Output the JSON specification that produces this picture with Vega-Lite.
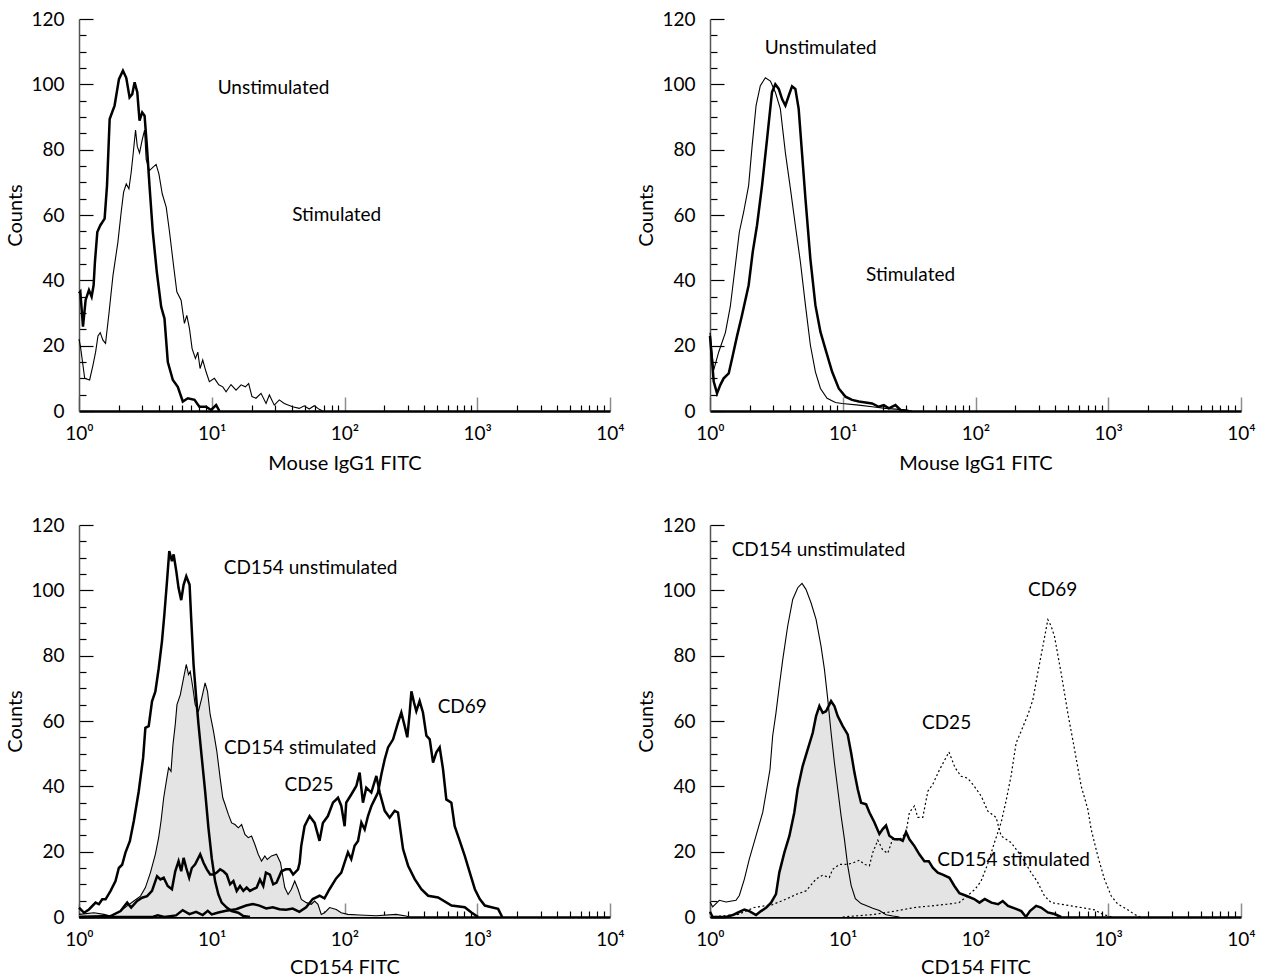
{
"$schema": "https://vega.github.io/schema/vega-lite/v6.json",
"background": "white",
"padding": {"left": 5, "top": 10, "right": 5, "bottom": 5},
"datasets": {
"labels": [
{"panel":"A","label":"Unstimulated","logFITC":1.465,"count":98.9},
{"panel":"A","label":"Stimulated","logFITC":1.941,"count":60.1},
{"panel":"B","label":"Unstimulated","logFITC":0.834,"count":111.1},
{"panel":"B","label":"Stimulated","logFITC":1.511,"count":41.5},
{"panel":"C","label":"CD154 unstimulated","logFITC":1.744,"count":106.8},
{"panel":"C","label":"CD154 stimulated","logFITC":1.666,"count":51.8},
{"panel":"C","label":"CD25","logFITC":1.733,"count":40.4},
{"panel":"C","label":"CD69","logFITC":2.887,"count":64.3},
{"panel":"D","label":"CD154 unstimulated","logFITC":0.817,"count":112.2},
{"panel":"D","label":"CD69","logFITC":2.581,"count":100},
{"panel":"D","label":"CD25","logFITC":1.782,"count":59.3},
{"panel":"D","label":"CD154 stimulated","logFITC":2.287,"count":17.4}
],
"curves": [
{"panel":"A","series":"Unstimulated","logFITC":0,"count":36},
{"panel":"A","series":"Unstimulated","logFITC":0.01,"count":36.5},
{"panel":"A","series":"Unstimulated","logFITC":0.03,"count":25.8},
{"panel":"A","series":"Unstimulated","logFITC":0.05,"count":34},
{"panel":"A","series":"Unstimulated","logFITC":0.075,"count":37},
{"panel":"A","series":"Unstimulated","logFITC":0.095,"count":35},
{"panel":"A","series":"Unstimulated","logFITC":0.11,"count":38.5},
{"panel":"A","series":"Unstimulated","logFITC":0.12,"count":45.6},
{"panel":"A","series":"Unstimulated","logFITC":0.138,"count":54.8},
{"panel":"A","series":"Unstimulated","logFITC":0.16,"count":56.8},
{"panel":"A","series":"Unstimulated","logFITC":0.193,"count":58.9},
{"panel":"A","series":"Unstimulated","logFITC":0.211,"count":69},
{"panel":"A","series":"Unstimulated","logFITC":0.231,"count":89.4},
{"panel":"A","series":"Unstimulated","logFITC":0.268,"count":93.5},
{"panel":"A","series":"Unstimulated","logFITC":0.301,"count":101.6},
{"panel":"A","series":"Unstimulated","logFITC":0.331,"count":104.2},
{"panel":"A","series":"Unstimulated","logFITC":0.356,"count":102},
{"panel":"A","series":"Unstimulated","logFITC":0.381,"count":96},
{"panel":"A","series":"Unstimulated","logFITC":0.401,"count":97},
{"panel":"A","series":"Unstimulated","logFITC":0.419,"count":100.6},
{"panel":"A","series":"Unstimulated","logFITC":0.439,"count":97.6},
{"panel":"A","series":"Unstimulated","logFITC":0.456,"count":88.9},
{"panel":"A","series":"Unstimulated","logFITC":0.476,"count":91.4},
{"panel":"A","series":"Unstimulated","logFITC":0.494,"count":90.4},
{"panel":"A","series":"Unstimulated","logFITC":0.511,"count":81.3},
{"panel":"A","series":"Unstimulated","logFITC":0.531,"count":69},
{"panel":"A","series":"Unstimulated","logFITC":0.556,"count":54.8},
{"panel":"A","series":"Unstimulated","logFITC":0.586,"count":42.6},
{"panel":"A","series":"Unstimulated","logFITC":0.619,"count":31.9},
{"panel":"A","series":"Unstimulated","logFITC":0.644,"count":28.3},
{"panel":"A","series":"Unstimulated","logFITC":0.669,"count":15},
{"panel":"A","series":"Unstimulated","logFITC":0.707,"count":9.5},
{"panel":"A","series":"Unstimulated","logFITC":0.744,"count":7.4},
{"panel":"A","series":"Unstimulated","logFITC":0.782,"count":2.9},
{"panel":"A","series":"Unstimulated","logFITC":0.82,"count":3.9},
{"panel":"A","series":"Unstimulated","logFITC":0.87,"count":3.4},
{"panel":"A","series":"Unstimulated","logFITC":0.907,"count":1.3},
{"panel":"A","series":"Unstimulated","logFITC":0.957,"count":1.3},
{"panel":"A","series":"Unstimulated","logFITC":0.995,"count":0.3},
{"panel":"A","series":"Unstimulated","logFITC":1.033,"count":1.8},
{"panel":"A","series":"Unstimulated","logFITC":1.058,"count":0},
{"panel":"A","series":"Stimulated","logFITC":0,"count":22},
{"panel":"A","series":"Stimulated","logFITC":0.01,"count":20},
{"panel":"A","series":"Stimulated","logFITC":0.043,"count":10},
{"panel":"A","series":"Stimulated","logFITC":0.08,"count":9.5},
{"panel":"A","series":"Stimulated","logFITC":0.105,"count":14},
{"panel":"A","series":"Stimulated","logFITC":0.125,"count":18},
{"panel":"A","series":"Stimulated","logFITC":0.143,"count":23},
{"panel":"A","series":"Stimulated","logFITC":0.16,"count":24},
{"panel":"A","series":"Stimulated","logFITC":0.18,"count":21.7},
{"panel":"A","series":"Stimulated","logFITC":0.2,"count":20.7},
{"panel":"A","series":"Stimulated","logFITC":0.226,"count":30},
{"panel":"A","series":"Stimulated","logFITC":0.256,"count":41.5},
{"panel":"A","series":"Stimulated","logFITC":0.293,"count":51.7},
{"panel":"A","series":"Stimulated","logFITC":0.318,"count":61},
{"panel":"A","series":"Stimulated","logFITC":0.336,"count":67},
{"panel":"A","series":"Stimulated","logFITC":0.356,"count":69.5},
{"panel":"A","series":"Stimulated","logFITC":0.376,"count":68},
{"panel":"A","series":"Stimulated","logFITC":0.393,"count":73},
{"panel":"A","series":"Stimulated","logFITC":0.406,"count":78},
{"panel":"A","series":"Stimulated","logFITC":0.426,"count":86},
{"panel":"A","series":"Stimulated","logFITC":0.439,"count":81},
{"panel":"A","series":"Stimulated","logFITC":0.456,"count":79},
{"panel":"A","series":"Stimulated","logFITC":0.476,"count":83},
{"panel":"A","series":"Stimulated","logFITC":0.494,"count":86},
{"panel":"A","series":"Stimulated","logFITC":0.506,"count":77},
{"panel":"A","series":"Stimulated","logFITC":0.531,"count":73.6},
{"panel":"A","series":"Stimulated","logFITC":0.556,"count":74.6},
{"panel":"A","series":"Stimulated","logFITC":0.581,"count":75.5},
{"panel":"A","series":"Stimulated","logFITC":0.602,"count":72.6},
{"panel":"A","series":"Stimulated","logFITC":0.627,"count":66.5},
{"panel":"A","series":"Stimulated","logFITC":0.657,"count":62.4},
{"panel":"A","series":"Stimulated","logFITC":0.682,"count":54.8},
{"panel":"A","series":"Stimulated","logFITC":0.712,"count":44.6},
{"panel":"A","series":"Stimulated","logFITC":0.737,"count":36.5},
{"panel":"A","series":"Stimulated","logFITC":0.769,"count":33.9},
{"panel":"A","series":"Stimulated","logFITC":0.794,"count":26.8},
{"panel":"A","series":"Stimulated","logFITC":0.812,"count":29.3},
{"panel":"A","series":"Stimulated","logFITC":0.832,"count":25.3},
{"panel":"A","series":"Stimulated","logFITC":0.852,"count":19.1},
{"panel":"A","series":"Stimulated","logFITC":0.877,"count":16.1},
{"panel":"A","series":"Stimulated","logFITC":0.895,"count":18},
{"panel":"A","series":"Stimulated","logFITC":0.912,"count":13},
{"panel":"A","series":"Stimulated","logFITC":0.932,"count":15.6},
{"panel":"A","series":"Stimulated","logFITC":0.957,"count":12},
{"panel":"A","series":"Stimulated","logFITC":0.982,"count":9},
{"panel":"A","series":"Stimulated","logFITC":1.02,"count":10},
{"panel":"A","series":"Stimulated","logFITC":1.053,"count":8},
{"panel":"A","series":"Stimulated","logFITC":1.083,"count":7.4},
{"panel":"A","series":"Stimulated","logFITC":1.108,"count":5.9},
{"panel":"A","series":"Stimulated","logFITC":1.145,"count":8.1},
{"panel":"A","series":"Stimulated","logFITC":1.183,"count":6.4},
{"panel":"A","series":"Stimulated","logFITC":1.221,"count":8},
{"panel":"A","series":"Stimulated","logFITC":1.253,"count":7.4},
{"panel":"A","series":"Stimulated","logFITC":1.278,"count":8.4},
{"panel":"A","series":"Stimulated","logFITC":1.303,"count":4.4},
{"panel":"A","series":"Stimulated","logFITC":1.333,"count":3.9},
{"panel":"A","series":"Stimulated","logFITC":1.371,"count":5.4},
{"panel":"A","series":"Stimulated","logFITC":1.409,"count":2.3},
{"panel":"A","series":"Stimulated","logFITC":1.434,"count":4.9},
{"panel":"A","series":"Stimulated","logFITC":1.471,"count":1.8},
{"panel":"A","series":"Stimulated","logFITC":1.509,"count":3.4},
{"panel":"A","series":"Stimulated","logFITC":1.546,"count":2.3},
{"panel":"A","series":"Stimulated","logFITC":1.609,"count":1.3},
{"panel":"A","series":"Stimulated","logFITC":1.659,"count":0.8},
{"panel":"A","series":"Stimulated","logFITC":1.697,"count":1.6},
{"panel":"A","series":"Stimulated","logFITC":1.734,"count":0.6},
{"panel":"A","series":"Stimulated","logFITC":1.772,"count":1.6},
{"panel":"A","series":"Stimulated","logFITC":1.81,"count":0.5},
{"panel":"A","series":"Stimulated","logFITC":1.835,"count":0},
{"panel":"B","series":"Unstimulated","logFITC":0,"count":24},
{"panel":"B","series":"Unstimulated","logFITC":0.028,"count":12.5},
{"panel":"B","series":"Unstimulated","logFITC":0.065,"count":18},
{"panel":"B","series":"Unstimulated","logFITC":0.116,"count":24},
{"panel":"B","series":"Unstimulated","logFITC":0.153,"count":32},
{"panel":"B","series":"Unstimulated","logFITC":0.191,"count":44.6},
{"panel":"B","series":"Unstimulated","logFITC":0.221,"count":54.8},
{"panel":"B","series":"Unstimulated","logFITC":0.254,"count":61},
{"panel":"B","series":"Unstimulated","logFITC":0.291,"count":69},
{"panel":"B","series":"Unstimulated","logFITC":0.317,"count":81},
{"panel":"B","series":"Unstimulated","logFITC":0.347,"count":93.5},
{"panel":"B","series":"Unstimulated","logFITC":0.379,"count":99.6},
{"panel":"B","series":"Unstimulated","logFITC":0.417,"count":102},
{"panel":"B","series":"Unstimulated","logFITC":0.455,"count":101},
{"panel":"B","series":"Unstimulated","logFITC":0.492,"count":97.6},
{"panel":"B","series":"Unstimulated","logFITC":0.53,"count":92.5},
{"panel":"B","series":"Unstimulated","logFITC":0.568,"count":79},
{"panel":"B","series":"Unstimulated","logFITC":0.606,"count":68},
{"panel":"B","series":"Unstimulated","logFITC":0.643,"count":56.8},
{"panel":"B","series":"Unstimulated","logFITC":0.681,"count":45.6},
{"panel":"B","series":"Unstimulated","logFITC":0.719,"count":32.4},
{"panel":"B","series":"Unstimulated","logFITC":0.756,"count":20.2},
{"panel":"B","series":"Unstimulated","logFITC":0.794,"count":12},
{"panel":"B","series":"Unstimulated","logFITC":0.832,"count":6.9},
{"panel":"B","series":"Unstimulated","logFITC":0.882,"count":3.9},
{"panel":"B","series":"Unstimulated","logFITC":0.945,"count":2.6},
{"panel":"B","series":"Unstimulated","logFITC":0.995,"count":2.3},
{"panel":"B","series":"Unstimulated","logFITC":1.121,"count":1.8},
{"panel":"B","series":"Unstimulated","logFITC":1.221,"count":1.3},
{"panel":"B","series":"Unstimulated","logFITC":1.322,"count":0.8},
{"panel":"B","series":"Unstimulated","logFITC":1.422,"count":0.5},
{"panel":"B","series":"Unstimulated","logFITC":1.523,"count":0},
{"panel":"B","series":"Stimulated","logFITC":0,"count":23},
{"panel":"B","series":"Stimulated","logFITC":0.028,"count":9},
{"panel":"B","series":"Stimulated","logFITC":0.053,"count":5.4},
{"panel":"B","series":"Stimulated","logFITC":0.078,"count":8},
{"panel":"B","series":"Stimulated","logFITC":0.103,"count":10},
{"panel":"B","series":"Stimulated","logFITC":0.141,"count":11.5},
{"panel":"B","series":"Stimulated","logFITC":0.166,"count":16},
{"panel":"B","series":"Stimulated","logFITC":0.204,"count":23},
{"panel":"B","series":"Stimulated","logFITC":0.241,"count":29.3},
{"panel":"B","series":"Stimulated","logFITC":0.291,"count":38.5},
{"panel":"B","series":"Stimulated","logFITC":0.322,"count":48.7},
{"panel":"B","series":"Stimulated","logFITC":0.354,"count":56.8},
{"panel":"B","series":"Stimulated","logFITC":0.392,"count":69},
{"panel":"B","series":"Stimulated","logFITC":0.43,"count":83.3},
{"panel":"B","series":"Stimulated","logFITC":0.467,"count":97.6},
{"panel":"B","series":"Stimulated","logFITC":0.492,"count":100},
{"panel":"B","series":"Stimulated","logFITC":0.518,"count":98.6},
{"panel":"B","series":"Stimulated","logFITC":0.543,"count":95.5},
{"panel":"B","series":"Stimulated","logFITC":0.568,"count":93.5},
{"panel":"B","series":"Stimulated","logFITC":0.593,"count":96.5},
{"panel":"B","series":"Stimulated","logFITC":0.618,"count":99.4},
{"panel":"B","series":"Stimulated","logFITC":0.643,"count":98.6},
{"panel":"B","series":"Stimulated","logFITC":0.668,"count":92.5},
{"panel":"B","series":"Stimulated","logFITC":0.693,"count":79},
{"panel":"B","series":"Stimulated","logFITC":0.719,"count":65},
{"panel":"B","series":"Stimulated","logFITC":0.756,"count":46.6},
{"panel":"B","series":"Stimulated","logFITC":0.794,"count":32.4},
{"panel":"B","series":"Stimulated","logFITC":0.832,"count":24.2},
{"panel":"B","series":"Stimulated","logFITC":0.869,"count":19},
{"panel":"B","series":"Stimulated","logFITC":0.92,"count":12},
{"panel":"B","series":"Stimulated","logFITC":0.97,"count":6.9},
{"panel":"B","series":"Stimulated","logFITC":1.02,"count":4.4},
{"panel":"B","series":"Stimulated","logFITC":1.07,"count":3.4},
{"panel":"B","series":"Stimulated","logFITC":1.121,"count":2.9},
{"panel":"B","series":"Stimulated","logFITC":1.171,"count":2.6},
{"panel":"B","series":"Stimulated","logFITC":1.221,"count":2.3},
{"panel":"B","series":"Stimulated","logFITC":1.271,"count":1.3},
{"panel":"B","series":"Stimulated","logFITC":1.309,"count":1.8},
{"panel":"B","series":"Stimulated","logFITC":1.347,"count":0.8},
{"panel":"B","series":"Stimulated","logFITC":1.397,"count":1.8},
{"panel":"B","series":"Stimulated","logFITC":1.435,"count":0.3},
{"panel":"B","series":"Stimulated","logFITC":1.497,"count":0},
{"panel":"C","series":"CD154 unstimulated","logFITC":0,"count":2.9},
{"panel":"C","series":"CD154 unstimulated","logFITC":0.038,"count":1.3},
{"panel":"C","series":"CD154 unstimulated","logFITC":0.075,"count":2.3},
{"panel":"C","series":"CD154 unstimulated","logFITC":0.125,"count":4.4},
{"panel":"C","series":"CD154 unstimulated","logFITC":0.15,"count":3.9},
{"panel":"C","series":"CD154 unstimulated","logFITC":0.175,"count":5.4},
{"panel":"C","series":"CD154 unstimulated","logFITC":0.2,"count":5.4},
{"panel":"C","series":"CD154 unstimulated","logFITC":0.238,"count":8},
{"panel":"C","series":"CD154 unstimulated","logFITC":0.275,"count":11},
{"panel":"C","series":"CD154 unstimulated","logFITC":0.3,"count":15},
{"panel":"C","series":"CD154 unstimulated","logFITC":0.325,"count":16},
{"panel":"C","series":"CD154 unstimulated","logFITC":0.35,"count":19.7},
{"panel":"C","series":"CD154 unstimulated","logFITC":0.383,"count":23.2},
{"panel":"C","series":"CD154 unstimulated","logFITC":0.413,"count":29.4},
{"panel":"C","series":"CD154 unstimulated","logFITC":0.45,"count":38.5},
{"panel":"C","series":"CD154 unstimulated","logFITC":0.483,"count":48.7},
{"panel":"C","series":"CD154 unstimulated","logFITC":0.5,"count":57.9},
{"panel":"C","series":"CD154 unstimulated","logFITC":0.525,"count":58.4},
{"panel":"C","series":"CD154 unstimulated","logFITC":0.55,"count":66},
{"panel":"C","series":"CD154 unstimulated","logFITC":0.575,"count":69},
{"panel":"C","series":"CD154 unstimulated","logFITC":0.6,"count":76},
{"panel":"C","series":"CD154 unstimulated","logFITC":0.625,"count":84.4},
{"panel":"C","series":"CD154 unstimulated","logFITC":0.643,"count":92.6},
{"panel":"C","series":"CD154 unstimulated","logFITC":0.663,"count":102.8},
{"panel":"C","series":"CD154 unstimulated","logFITC":0.68,"count":112},
{"panel":"C","series":"CD154 unstimulated","logFITC":0.7,"count":108.9},
{"panel":"C","series":"CD154 unstimulated","logFITC":0.713,"count":111},
{"panel":"C","series":"CD154 unstimulated","logFITC":0.733,"count":105.8},
{"panel":"C","series":"CD154 unstimulated","logFITC":0.75,"count":100.7},
{"panel":"C","series":"CD154 unstimulated","logFITC":0.77,"count":97},
{"panel":"C","series":"CD154 unstimulated","logFITC":0.788,"count":101.7},
{"panel":"C","series":"CD154 unstimulated","logFITC":0.808,"count":104.3},
{"panel":"C","series":"CD154 unstimulated","logFITC":0.833,"count":101.7},
{"panel":"C","series":"CD154 unstimulated","logFITC":0.845,"count":91.5},
{"panel":"C","series":"CD154 unstimulated","logFITC":0.863,"count":77.3},
{"panel":"C","series":"CD154 unstimulated","logFITC":0.883,"count":67},
{"panel":"C","series":"CD154 unstimulated","logFITC":0.9,"count":59},
{"panel":"C","series":"CD154 unstimulated","logFITC":0.925,"count":48.7},
{"panel":"C","series":"CD154 unstimulated","logFITC":0.95,"count":38.5},
{"panel":"C","series":"CD154 unstimulated","logFITC":0.975,"count":27.3},
{"panel":"C","series":"CD154 unstimulated","logFITC":1.0,"count":18},
{"panel":"C","series":"CD154 unstimulated","logFITC":1.025,"count":11},
{"panel":"C","series":"CD154 unstimulated","logFITC":1.05,"count":6.9},
{"panel":"C","series":"CD154 unstimulated","logFITC":1.075,"count":4.4},
{"panel":"C","series":"CD154 unstimulated","logFITC":1.113,"count":2.9},
{"panel":"C","series":"CD154 unstimulated","logFITC":1.15,"count":1.8},
{"panel":"C","series":"CD154 unstimulated","logFITC":1.2,"count":1.3},
{"panel":"C","series":"CD154 unstimulated","logFITC":1.238,"count":0.3},
{"panel":"C","series":"CD154 unstimulated","logFITC":1.288,"count":0},
{"panel":"C","series":"CD154 stimulated","logFITC":0,"count":0.8},
{"panel":"C","series":"CD154 stimulated","logFITC":0.113,"count":1.3},
{"panel":"C","series":"CD154 stimulated","logFITC":0.188,"count":0.8},
{"panel":"C","series":"CD154 stimulated","logFITC":0.238,"count":0.3},
{"panel":"C","series":"CD154 stimulated","logFITC":0.313,"count":1.8},
{"panel":"C","series":"CD154 stimulated","logFITC":0.363,"count":3.4},
{"panel":"C","series":"CD154 stimulated","logFITC":0.413,"count":4.9},
{"panel":"C","series":"CD154 stimulated","logFITC":0.463,"count":6.4},
{"panel":"C","series":"CD154 stimulated","logFITC":0.5,"count":9},
{"panel":"C","series":"CD154 stimulated","logFITC":0.538,"count":13.6},
{"panel":"C","series":"CD154 stimulated","logFITC":0.575,"count":19.2},
{"panel":"C","series":"CD154 stimulated","logFITC":0.6,"count":24.3},
{"panel":"C","series":"CD154 stimulated","logFITC":0.618,"count":29.4},
{"panel":"C","series":"CD154 stimulated","logFITC":0.638,"count":36.5},
{"panel":"C","series":"CD154 stimulated","logFITC":0.658,"count":41.6},
{"panel":"C","series":"CD154 stimulated","logFITC":0.675,"count":45.7},
{"panel":"C","series":"CD154 stimulated","logFITC":0.693,"count":44.6},
{"panel":"C","series":"CD154 stimulated","logFITC":0.708,"count":52.8},
{"panel":"C","series":"CD154 stimulated","logFITC":0.725,"count":58.9},
{"panel":"C","series":"CD154 stimulated","logFITC":0.738,"count":65},
{"panel":"C","series":"CD154 stimulated","logFITC":0.763,"count":68},
{"panel":"C","series":"CD154 stimulated","logFITC":0.788,"count":73.2},
{"panel":"C","series":"CD154 stimulated","logFITC":0.808,"count":77.3},
{"panel":"C","series":"CD154 stimulated","logFITC":0.825,"count":74.2},
{"panel":"C","series":"CD154 stimulated","logFITC":0.838,"count":75.2},
{"panel":"C","series":"CD154 stimulated","logFITC":0.858,"count":70.1},
{"panel":"C","series":"CD154 stimulated","logFITC":0.875,"count":65},
{"panel":"C","series":"CD154 stimulated","logFITC":0.9,"count":63},
{"panel":"C","series":"CD154 stimulated","logFITC":0.925,"count":67.1},
{"panel":"C","series":"CD154 stimulated","logFITC":0.95,"count":71.7},
{"panel":"C","series":"CD154 stimulated","logFITC":0.968,"count":69.1},
{"panel":"C","series":"CD154 stimulated","logFITC":0.988,"count":62},
{"panel":"C","series":"CD154 stimulated","logFITC":1.013,"count":56.9},
{"panel":"C","series":"CD154 stimulated","logFITC":1.038,"count":50.8},
{"panel":"C","series":"CD154 stimulated","logFITC":1.063,"count":42.6},
{"panel":"C","series":"CD154 stimulated","logFITC":1.083,"count":36.5},
{"panel":"C","series":"CD154 stimulated","logFITC":1.1,"count":34.5},
{"panel":"C","series":"CD154 stimulated","logFITC":1.125,"count":31.4},
{"panel":"C","series":"CD154 stimulated","logFITC":1.15,"count":28.8},
{"panel":"C","series":"CD154 stimulated","logFITC":1.175,"count":28.3},
{"panel":"C","series":"CD154 stimulated","logFITC":1.2,"count":27.3},
{"panel":"C","series":"CD154 stimulated","logFITC":1.225,"count":28.3},
{"panel":"C","series":"CD154 stimulated","logFITC":1.25,"count":25.3},
{"panel":"C","series":"CD154 stimulated","logFITC":1.275,"count":24.3},
{"panel":"C","series":"CD154 stimulated","logFITC":1.3,"count":24.8},
{"panel":"C","series":"CD154 stimulated","logFITC":1.325,"count":22.2},
{"panel":"C","series":"CD154 stimulated","logFITC":1.35,"count":19.2},
{"panel":"C","series":"CD154 stimulated","logFITC":1.375,"count":17.1},
{"panel":"C","series":"CD154 stimulated","logFITC":1.4,"count":18.7},
{"panel":"C","series":"CD154 stimulated","logFITC":1.418,"count":17.6},
{"panel":"C","series":"CD154 stimulated","logFITC":1.45,"count":18.7},
{"panel":"C","series":"CD154 stimulated","logFITC":1.488,"count":19.2},
{"panel":"C","series":"CD154 stimulated","logFITC":1.518,"count":16.6},
{"panel":"C","series":"CD154 stimulated","logFITC":1.533,"count":13},
{"panel":"C","series":"CD154 stimulated","logFITC":1.55,"count":9},
{"panel":"C","series":"CD154 stimulated","logFITC":1.575,"count":6.9},
{"panel":"C","series":"CD154 stimulated","logFITC":1.6,"count":8.5},
{"panel":"C","series":"CD154 stimulated","logFITC":1.625,"count":11},
{"panel":"C","series":"CD154 stimulated","logFITC":1.65,"count":8.5},
{"panel":"C","series":"CD154 stimulated","logFITC":1.675,"count":5.4},
{"panel":"C","series":"CD154 stimulated","logFITC":1.713,"count":4.4},
{"panel":"C","series":"CD154 stimulated","logFITC":1.75,"count":3.9},
{"panel":"C","series":"CD154 stimulated","logFITC":1.775,"count":4.9},
{"panel":"C","series":"CD154 stimulated","logFITC":1.8,"count":3.9},
{"panel":"C","series":"CD154 stimulated","logFITC":1.825,"count":0.8},
{"panel":"C","series":"CD154 stimulated","logFITC":1.85,"count":1.3},
{"panel":"C","series":"CD154 stimulated","logFITC":1.888,"count":2.9},
{"panel":"C","series":"CD154 stimulated","logFITC":1.938,"count":2.3},
{"panel":"C","series":"CD154 stimulated","logFITC":1.975,"count":1.3},
{"panel":"C","series":"CD154 stimulated","logFITC":2.025,"count":0.8},
{"panel":"C","series":"CD154 stimulated","logFITC":2.113,"count":0.6},
{"panel":"C","series":"CD154 stimulated","logFITC":2.238,"count":0.4},
{"panel":"C","series":"CD154 stimulated","logFITC":2.388,"count":0.8},
{"panel":"C","series":"CD154 stimulated","logFITC":2.463,"count":0.3},
{"panel":"C","series":"CD154 stimulated","logFITC":2.49,"count":0},
{"panel":"C","series":"CD25","logFITC":0,"count":0},
{"panel":"C","series":"CD25","logFITC":0.238,"count":0.3},
{"panel":"C","series":"CD25","logFITC":0.313,"count":1.8},
{"panel":"C","series":"CD25","logFITC":0.363,"count":4.4},
{"panel":"C","series":"CD25","logFITC":0.393,"count":2.9},
{"panel":"C","series":"CD25","logFITC":0.438,"count":4.9},
{"panel":"C","series":"CD25","logFITC":0.475,"count":5.9},
{"panel":"C","series":"CD25","logFITC":0.513,"count":6.4},
{"panel":"C","series":"CD25","logFITC":0.55,"count":8},
{"panel":"C","series":"CD25","logFITC":0.588,"count":12.5},
{"panel":"C","series":"CD25","logFITC":0.613,"count":11.5},
{"panel":"C","series":"CD25","logFITC":0.638,"count":12},
{"panel":"C","series":"CD25","logFITC":0.668,"count":9.5},
{"panel":"C","series":"CD25","logFITC":0.7,"count":8.5},
{"panel":"C","series":"CD25","logFITC":0.725,"count":14},
{"panel":"C","series":"CD25","logFITC":0.75,"count":17.1},
{"panel":"C","series":"CD25","logFITC":0.77,"count":14},
{"panel":"C","series":"CD25","logFITC":0.788,"count":18.1},
{"panel":"C","series":"CD25","logFITC":0.808,"count":15},
{"panel":"C","series":"CD25","logFITC":0.83,"count":12},
{"panel":"C","series":"CD25","logFITC":0.85,"count":15},
{"panel":"C","series":"CD25","logFITC":0.875,"count":16.1},
{"panel":"C","series":"CD25","logFITC":0.913,"count":19.2},
{"panel":"C","series":"CD25","logFITC":0.938,"count":16.6},
{"panel":"C","series":"CD25","logFITC":0.963,"count":14.6},
{"panel":"C","series":"CD25","logFITC":0.988,"count":13},
{"panel":"C","series":"CD25","logFITC":1.013,"count":13},
{"panel":"C","series":"CD25","logFITC":1.038,"count":13.6},
{"panel":"C","series":"CD25","logFITC":1.063,"count":14.6},
{"panel":"C","series":"CD25","logFITC":1.088,"count":14},
{"panel":"C","series":"CD25","logFITC":1.113,"count":13},
{"panel":"C","series":"CD25","logFITC":1.138,"count":10},
{"panel":"C","series":"CD25","logFITC":1.163,"count":11},
{"panel":"C","series":"CD25","logFITC":1.188,"count":8},
{"panel":"C","series":"CD25","logFITC":1.213,"count":9.5},
{"panel":"C","series":"CD25","logFITC":1.238,"count":8},
{"panel":"C","series":"CD25","logFITC":1.263,"count":9},
{"panel":"C","series":"CD25","logFITC":1.288,"count":8},
{"panel":"C","series":"CD25","logFITC":1.313,"count":8.5},
{"panel":"C","series":"CD25","logFITC":1.338,"count":9},
{"panel":"C","series":"CD25","logFITC":1.363,"count":11.5},
{"panel":"C","series":"CD25","logFITC":1.388,"count":9.5},
{"panel":"C","series":"CD25","logFITC":1.408,"count":13.6},
{"panel":"C","series":"CD25","logFITC":1.438,"count":13},
{"panel":"C","series":"CD25","logFITC":1.463,"count":10},
{"panel":"C","series":"CD25","logFITC":1.488,"count":10.5},
{"panel":"C","series":"CD25","logFITC":1.525,"count":14},
{"panel":"C","series":"CD25","logFITC":1.558,"count":14.6},
{"panel":"C","series":"CD25","logFITC":1.588,"count":14.6},
{"panel":"C","series":"CD25","logFITC":1.613,"count":13},
{"panel":"C","series":"CD25","logFITC":1.65,"count":14.6},
{"panel":"C","series":"CD25","logFITC":1.662,"count":16.6},
{"panel":"C","series":"CD25","logFITC":1.674,"count":21.7},
{"panel":"C","series":"CD25","logFITC":1.699,"count":27.8},
{"panel":"C","series":"CD25","logFITC":1.737,"count":30.9},
{"panel":"C","series":"CD25","logFITC":1.775,"count":28.8},
{"panel":"C","series":"CD25","logFITC":1.812,"count":23.3},
{"panel":"C","series":"CD25","logFITC":1.837,"count":28.8},
{"panel":"C","series":"CD25","logFITC":1.875,"count":30.9},
{"panel":"C","series":"CD25","logFITC":1.913,"count":35},
{"panel":"C","series":"CD25","logFITC":1.951,"count":36.5},
{"panel":"C","series":"CD25","logFITC":1.976,"count":34},
{"panel":"C","series":"CD25","logFITC":2.001,"count":27.8},
{"panel":"C","series":"CD25","logFITC":2.013,"count":35},
{"panel":"C","series":"CD25","logFITC":2.051,"count":37.5},
{"panel":"C","series":"CD25","logFITC":2.089,"count":40.1},
{"panel":"C","series":"CD25","logFITC":2.114,"count":44.2},
{"panel":"C","series":"CD25","logFITC":2.139,"count":35},
{"panel":"C","series":"CD25","logFITC":2.164,"count":39.6},
{"panel":"C","series":"CD25","logFITC":2.202,"count":38.1},
{"panel":"C","series":"CD25","logFITC":2.24,"count":43.2},
{"panel":"C","series":"CD25","logFITC":2.265,"count":38.1},
{"panel":"C","series":"CD25","logFITC":2.303,"count":32.5},
{"panel":"C","series":"CD25","logFITC":2.34,"count":30.4},
{"panel":"C","series":"CD25","logFITC":2.378,"count":32.5},
{"panel":"C","series":"CD25","logFITC":2.403,"count":32},
{"panel":"C","series":"CD25","logFITC":2.441,"count":20.8},
{"panel":"C","series":"CD25","logFITC":2.479,"count":15.7},
{"panel":"C","series":"CD25","logFITC":2.529,"count":11.6},
{"panel":"C","series":"CD25","logFITC":2.579,"count":8.5},
{"panel":"C","series":"CD25","logFITC":2.63,"count":6.5},
{"panel":"C","series":"CD25","logFITC":2.705,"count":6},
{"panel":"C","series":"CD25","logFITC":2.806,"count":3.5},
{"panel":"C","series":"CD25","logFITC":2.906,"count":3},
{"panel":"C","series":"CD25","logFITC":2.956,"count":1.4},
{"panel":"C","series":"CD25","logFITC":3.007,"count":0},
{"panel":"C","series":"CD69","logFITC":0,"count":0},
{"panel":"C","series":"CD69","logFITC":0.555,"count":0},
{"panel":"C","series":"CD69","logFITC":0.593,"count":0.5},
{"panel":"C","series":"CD69","logFITC":0.643,"count":0},
{"panel":"C","series":"CD69","logFITC":0.731,"count":0.5},
{"panel":"C","series":"CD69","logFITC":0.781,"count":2.1},
{"panel":"C","series":"CD69","logFITC":0.832,"count":0.9},
{"panel":"C","series":"CD69","logFITC":0.882,"count":1.6},
{"panel":"C","series":"CD69","logFITC":0.932,"count":0.6},
{"panel":"C","series":"CD69","logFITC":0.97,"count":1.9},
{"panel":"C","series":"CD69","logFITC":1.0,"count":0.8},
{"panel":"C","series":"CD69","logFITC":1.05,"count":1.4},
{"panel":"C","series":"CD69","logFITC":1.108,"count":1.9},
{"panel":"C","series":"CD69","logFITC":1.183,"count":2.4},
{"panel":"C","series":"CD69","logFITC":1.259,"count":3.5},
{"panel":"C","series":"CD69","logFITC":1.309,"count":4},
{"panel":"C","series":"CD69","logFITC":1.359,"count":3.5},
{"panel":"C","series":"CD69","logFITC":1.41,"count":2.6},
{"panel":"C","series":"CD69","logFITC":1.46,"count":3},
{"panel":"C","series":"CD69","logFITC":1.51,"count":2.4},
{"panel":"C","series":"CD69","logFITC":1.56,"count":2.2},
{"panel":"C","series":"CD69","logFITC":1.61,"count":2.6},
{"panel":"C","series":"CD69","logFITC":1.66,"count":1.6},
{"panel":"C","series":"CD69","logFITC":1.711,"count":3},
{"panel":"C","series":"CD69","logFITC":1.761,"count":5.5},
{"panel":"C","series":"CD69","logFITC":1.812,"count":6.5},
{"panel":"C","series":"CD69","logFITC":1.849,"count":5.7},
{"panel":"C","series":"CD69","logFITC":1.887,"count":8.5},
{"panel":"C","series":"CD69","logFITC":1.937,"count":11.8},
{"panel":"C","series":"CD69","logFITC":1.976,"count":13.6},
{"panel":"C","series":"CD69","logFITC":2.001,"count":16.7},
{"panel":"C","series":"CD69","logFITC":2.026,"count":19.8},
{"panel":"C","series":"CD69","logFITC":2.051,"count":17.7},
{"panel":"C","series":"CD69","logFITC":2.076,"count":21.8},
{"panel":"C","series":"CD69","logFITC":2.102,"count":23.3},
{"panel":"C","series":"CD69","logFITC":2.127,"count":28.9},
{"panel":"C","series":"CD69","logFITC":2.152,"count":26.8},
{"panel":"C","series":"CD69","logFITC":2.177,"count":30.9},
{"panel":"C","series":"CD69","logFITC":2.202,"count":33.9},
{"panel":"C","series":"CD69","logFITC":2.227,"count":36},
{"panel":"C","series":"CD69","logFITC":2.252,"count":38.1},
{"panel":"C","series":"CD69","logFITC":2.278,"count":43.7},
{"panel":"C","series":"CD69","logFITC":2.303,"count":48.3},
{"panel":"C","series":"CD69","logFITC":2.328,"count":51.9},
{"panel":"C","series":"CD69","logFITC":2.366,"count":54.4},
{"panel":"C","series":"CD69","logFITC":2.403,"count":59.5},
{"panel":"C","series":"CD69","logFITC":2.428,"count":62.6},
{"panel":"C","series":"CD69","logFITC":2.453,"count":58.5},
{"panel":"C","series":"CD69","logFITC":2.473,"count":55},
{"panel":"C","series":"CD69","logFITC":2.491,"count":62.6},
{"panel":"C","series":"CD69","logFITC":2.504,"count":69.1},
{"panel":"C","series":"CD69","logFITC":2.524,"count":65.6},
{"panel":"C","series":"CD69","logFITC":2.541,"count":63},
{"panel":"C","series":"CD69","logFITC":2.566,"count":66.1},
{"panel":"C","series":"CD69","logFITC":2.591,"count":62.6},
{"panel":"C","series":"CD69","logFITC":2.617,"count":55.5},
{"panel":"C","series":"CD69","logFITC":2.642,"count":54.4},
{"panel":"C","series":"CD69","logFITC":2.667,"count":47.3},
{"panel":"C","series":"CD69","logFITC":2.692,"count":50.4},
{"panel":"C","series":"CD69","logFITC":2.717,"count":51.9},
{"panel":"C","series":"CD69","logFITC":2.742,"count":45.3},
{"panel":"C","series":"CD69","logFITC":2.767,"count":36},
{"panel":"C","series":"CD69","logFITC":2.805,"count":35},
{"panel":"C","series":"CD69","logFITC":2.83,"count":27.8},
{"panel":"C","series":"CD69","logFITC":2.868,"count":23.3},
{"panel":"C","series":"CD69","logFITC":2.906,"count":18.7},
{"panel":"C","series":"CD69","logFITC":2.944,"count":13.6},
{"panel":"C","series":"CD69","logFITC":2.982,"count":8.5},
{"panel":"C","series":"CD69","logFITC":3.019,"count":5.5},
{"panel":"C","series":"CD69","logFITC":3.057,"count":3.5},
{"panel":"C","series":"CD69","logFITC":3.107,"count":3},
{"panel":"C","series":"CD69","logFITC":3.157,"count":2.5},
{"panel":"C","series":"CD69","logFITC":3.188,"count":0},
{"panel":"D","series":"CD154 unstimulated","logFITC":0,"count":4.6},
{"panel":"D","series":"CD154 unstimulated","logFITC":0.02,"count":3.1},
{"panel":"D","series":"CD154 unstimulated","logFITC":0.07,"count":5.1},
{"panel":"D","series":"CD154 unstimulated","logFITC":0.121,"count":4.6},
{"panel":"D","series":"CD154 unstimulated","logFITC":0.196,"count":5.1},
{"panel":"D","series":"CD154 unstimulated","logFITC":0.221,"count":6.6},
{"panel":"D","series":"CD154 unstimulated","logFITC":0.259,"count":11.6},
{"panel":"D","series":"CD154 unstimulated","logFITC":0.296,"count":17.7},
{"panel":"D","series":"CD154 unstimulated","logFITC":0.347,"count":24.9},
{"panel":"D","series":"CD154 unstimulated","logFITC":0.397,"count":32},
{"panel":"D","series":"CD154 unstimulated","logFITC":0.427,"count":39.1},
{"panel":"D","series":"CD154 unstimulated","logFITC":0.452,"count":45.2},
{"panel":"D","series":"CD154 unstimulated","logFITC":0.472,"count":55.4},
{"panel":"D","series":"CD154 unstimulated","logFITC":0.497,"count":62.5},
{"panel":"D","series":"CD154 unstimulated","logFITC":0.522,"count":70.7},
{"panel":"D","series":"CD154 unstimulated","logFITC":0.548,"count":78.8},
{"panel":"D","series":"CD154 unstimulated","logFITC":0.585,"count":89},
{"panel":"D","series":"CD154 unstimulated","logFITC":0.623,"count":97.2},
{"panel":"D","series":"CD154 unstimulated","logFITC":0.661,"count":100.8},
{"panel":"D","series":"CD154 unstimulated","logFITC":0.693,"count":102.1},
{"panel":"D","series":"CD154 unstimulated","logFITC":0.723,"count":100.3},
{"panel":"D","series":"CD154 unstimulated","logFITC":0.761,"count":96.2},
{"panel":"D","series":"CD154 unstimulated","logFITC":0.799,"count":91.1},
{"panel":"D","series":"CD154 unstimulated","logFITC":0.836,"count":83},
{"panel":"D","series":"CD154 unstimulated","logFITC":0.862,"count":75.8},
{"panel":"D","series":"CD154 unstimulated","logFITC":0.887,"count":66.7},
{"panel":"D","series":"CD154 unstimulated","logFITC":0.912,"count":56.5},
{"panel":"D","series":"CD154 unstimulated","logFITC":0.937,"count":47.3},
{"panel":"D","series":"CD154 unstimulated","logFITC":0.962,"count":39.2},
{"panel":"D","series":"CD154 unstimulated","logFITC":0.987,"count":31.1},
{"panel":"D","series":"CD154 unstimulated","logFITC":1.012,"count":24},
{"panel":"D","series":"CD154 unstimulated","logFITC":1.037,"count":15.8},
{"panel":"D","series":"CD154 unstimulated","logFITC":1.063,"count":9.7},
{"panel":"D","series":"CD154 unstimulated","logFITC":1.095,"count":5.6},
{"panel":"D","series":"CD154 unstimulated","logFITC":1.138,"count":4.1},
{"panel":"D","series":"CD154 unstimulated","logFITC":1.176,"count":3.5},
{"panel":"D","series":"CD154 unstimulated","logFITC":1.226,"count":2.7},
{"panel":"D","series":"CD154 unstimulated","logFITC":1.276,"count":2},
{"panel":"D","series":"CD154 unstimulated","logFITC":1.326,"count":0.7},
{"panel":"D","series":"CD154 unstimulated","logFITC":1.377,"count":0.3},
{"panel":"D","series":"CD154 unstimulated","logFITC":1.427,"count":0},
{"panel":"D","series":"CD154 stimulated","logFITC":0,"count":1.6},
{"panel":"D","series":"CD154 stimulated","logFITC":0.02,"count":0},
{"panel":"D","series":"CD154 stimulated","logFITC":0.121,"count":0},
{"panel":"D","series":"CD154 stimulated","logFITC":0.171,"count":0.6},
{"panel":"D","series":"CD154 stimulated","logFITC":0.208,"count":1.3},
{"panel":"D","series":"CD154 stimulated","logFITC":0.259,"count":2.3},
{"panel":"D","series":"CD154 stimulated","logFITC":0.296,"count":1.8},
{"panel":"D","series":"CD154 stimulated","logFITC":0.347,"count":0.6},
{"panel":"D","series":"CD154 stimulated","logFITC":0.384,"count":1.8},
{"panel":"D","series":"CD154 stimulated","logFITC":0.422,"count":2.8},
{"panel":"D","series":"CD154 stimulated","logFITC":0.46,"count":4.4},
{"panel":"D","series":"CD154 stimulated","logFITC":0.497,"count":7},
{"panel":"D","series":"CD154 stimulated","logFITC":0.522,"count":13.6},
{"panel":"D","series":"CD154 stimulated","logFITC":0.56,"count":19.7},
{"panel":"D","series":"CD154 stimulated","logFITC":0.598,"count":24.8},
{"panel":"D","series":"CD154 stimulated","logFITC":0.635,"count":32},
{"panel":"D","series":"CD154 stimulated","logFITC":0.66,"count":39.1},
{"panel":"D","series":"CD154 stimulated","logFITC":0.698,"count":46.2},
{"panel":"D","series":"CD154 stimulated","logFITC":0.736,"count":51.3},
{"panel":"D","series":"CD154 stimulated","logFITC":0.774,"count":56.4},
{"panel":"D","series":"CD154 stimulated","logFITC":0.799,"count":61.5},
{"panel":"D","series":"CD154 stimulated","logFITC":0.824,"count":64.6},
{"panel":"D","series":"CD154 stimulated","logFITC":0.849,"count":62.5},
{"panel":"D","series":"CD154 stimulated","logFITC":0.874,"count":63},
{"panel":"D","series":"CD154 stimulated","logFITC":0.912,"count":66.1},
{"panel":"D","series":"CD154 stimulated","logFITC":0.937,"count":64.6},
{"panel":"D","series":"CD154 stimulated","logFITC":0.962,"count":61.5},
{"panel":"D","series":"CD154 stimulated","logFITC":0.999,"count":58.5},
{"panel":"D","series":"CD154 stimulated","logFITC":1.037,"count":55.9},
{"panel":"D","series":"CD154 stimulated","logFITC":1.063,"count":50.3},
{"panel":"D","series":"CD154 stimulated","logFITC":1.088,"count":44.2},
{"panel":"D","series":"CD154 stimulated","logFITC":1.113,"count":39.1},
{"panel":"D","series":"CD154 stimulated","logFITC":1.138,"count":35},
{"panel":"D","series":"CD154 stimulated","logFITC":1.176,"count":34.5},
{"panel":"D","series":"CD154 stimulated","logFITC":1.201,"count":32},
{"panel":"D","series":"CD154 stimulated","logFITC":1.238,"count":29},
{"panel":"D","series":"CD154 stimulated","logFITC":1.276,"count":25.4},
{"panel":"D","series":"CD154 stimulated","logFITC":1.301,"count":26.9},
{"panel":"D","series":"CD154 stimulated","logFITC":1.326,"count":28},
{"panel":"D","series":"CD154 stimulated","logFITC":1.351,"count":24.9},
{"panel":"D","series":"CD154 stimulated","logFITC":1.389,"count":23.8},
{"panel":"D","series":"CD154 stimulated","logFITC":1.427,"count":23.8},
{"panel":"D","series":"CD154 stimulated","logFITC":1.452,"count":23.3},
{"panel":"D","series":"CD154 stimulated","logFITC":1.477,"count":26},
{"panel":"D","series":"CD154 stimulated","logFITC":1.502,"count":23.8},
{"panel":"D","series":"CD154 stimulated","logFITC":1.54,"count":21.7},
{"panel":"D","series":"CD154 stimulated","logFITC":1.577,"count":19.2},
{"panel":"D","series":"CD154 stimulated","logFITC":1.615,"count":17.1},
{"panel":"D","series":"CD154 stimulated","logFITC":1.648,"count":17.1},
{"panel":"D","series":"CD154 stimulated","logFITC":1.678,"count":15.1},
{"panel":"D","series":"CD154 stimulated","logFITC":1.716,"count":13.6},
{"panel":"D","series":"CD154 stimulated","logFITC":1.753,"count":13},
{"panel":"D","series":"CD154 stimulated","logFITC":1.804,"count":12},
{"panel":"D","series":"CD154 stimulated","logFITC":1.841,"count":9.5},
{"panel":"D","series":"CD154 stimulated","logFITC":1.879,"count":7.3},
{"panel":"D","series":"CD154 stimulated","logFITC":1.929,"count":6.5},
{"panel":"D","series":"CD154 stimulated","logFITC":1.99,"count":5.5},
{"panel":"D","series":"CD154 stimulated","logFITC":2.03,"count":4.4},
{"panel":"D","series":"CD154 stimulated","logFITC":2.07,"count":5.5},
{"panel":"D","series":"CD154 stimulated","logFITC":2.12,"count":4.4},
{"panel":"D","series":"CD154 stimulated","logFITC":2.17,"count":3.9},
{"panel":"D","series":"CD154 stimulated","logFITC":2.205,"count":4.9},
{"panel":"D","series":"CD154 stimulated","logFITC":2.245,"count":3.4},
{"panel":"D","series":"CD154 stimulated","logFITC":2.31,"count":2.4},
{"panel":"D","series":"CD154 stimulated","logFITC":2.345,"count":1.8},
{"panel":"D","series":"CD154 stimulated","logFITC":2.38,"count":0},
{"panel":"D","series":"CD154 stimulated","logFITC":2.41,"count":1.8},
{"panel":"D","series":"CD154 stimulated","logFITC":2.457,"count":3.4},
{"panel":"D","series":"CD154 stimulated","logFITC":2.494,"count":2.9},
{"panel":"D","series":"CD154 stimulated","logFITC":2.545,"count":1.4},
{"panel":"D","series":"CD154 stimulated","logFITC":2.595,"count":0.9},
{"panel":"D","series":"CD154 stimulated","logFITC":2.645,"count":0},
{"panel":"D","series":"CD25","logFITC":0,"count":0},
{"panel":"D","series":"CD25","logFITC":0.212,"count":0.8},
{"panel":"D","series":"CD25","logFITC":0.333,"count":2.9},
{"panel":"D","series":"CD25","logFITC":0.472,"count":3.8},
{"panel":"D","series":"CD25","logFITC":0.575,"count":5.5},
{"panel":"D","series":"CD25","logFITC":0.648,"count":6.9},
{"panel":"D","series":"CD25","logFITC":0.723,"count":8},
{"panel":"D","series":"CD25","logFITC":0.799,"count":11.6},
{"panel":"D","series":"CD25","logFITC":0.849,"count":12.8},
{"panel":"D","series":"CD25","logFITC":0.899,"count":12.1},
{"panel":"D","series":"CD25","logFITC":0.924,"count":14.6},
{"panel":"D","series":"CD25","logFITC":0.975,"count":16.1},
{"panel":"D","series":"CD25","logFITC":1.029,"count":16.1},
{"panel":"D","series":"CD25","logFITC":1.075,"count":16.5},
{"panel":"D","series":"CD25","logFITC":1.125,"count":17.4},
{"panel":"D","series":"CD25","logFITC":1.163,"count":16.1},
{"panel":"D","series":"CD25","logFITC":1.201,"count":15.7},
{"panel":"D","series":"CD25","logFITC":1.226,"count":19.7},
{"panel":"D","series":"CD25","logFITC":1.264,"count":23.5},
{"panel":"D","series":"CD25","logFITC":1.301,"count":20.5},
{"panel":"D","series":"CD25","logFITC":1.339,"count":19.5},
{"panel":"D","series":"CD25","logFITC":1.377,"count":24},
{"panel":"D","series":"CD25","logFITC":1.427,"count":23.5},
{"panel":"D","series":"CD25","logFITC":1.477,"count":25.9},
{"panel":"D","series":"CD25","logFITC":1.502,"count":32},
{"panel":"D","series":"CD25","logFITC":1.54,"count":34},
{"panel":"D","series":"CD25","logFITC":1.565,"count":30.5},
{"panel":"D","series":"CD25","logFITC":1.603,"count":30.5},
{"panel":"D","series":"CD25","logFITC":1.641,"count":38.5},
{"panel":"D","series":"CD25","logFITC":1.678,"count":40.6},
{"panel":"D","series":"CD25","logFITC":1.728,"count":45},
{"panel":"D","series":"CD25","logFITC":1.8,"count":50.5},
{"panel":"D","series":"CD25","logFITC":1.846,"count":45.7},
{"panel":"D","series":"CD25","logFITC":1.891,"count":43.1},
{"panel":"D","series":"CD25","logFITC":1.94,"count":42.5},
{"panel":"D","series":"CD25","logFITC":1.982,"count":40.5},
{"panel":"D","series":"CD25","logFITC":2.042,"count":37.1},
{"panel":"D","series":"CD25","logFITC":2.093,"count":32.4},
{"panel":"D","series":"CD25","logFITC":2.155,"count":30.5},
{"panel":"D","series":"CD25","logFITC":2.193,"count":24.8},
{"panel":"D","series":"CD25","logFITC":2.268,"count":22.8},
{"panel":"D","series":"CD25","logFITC":2.343,"count":18.7},
{"panel":"D","series":"CD25","logFITC":2.419,"count":13.6},
{"panel":"D","series":"CD25","logFITC":2.469,"count":10.6},
{"panel":"D","series":"CD25","logFITC":2.519,"count":6.5},
{"panel":"D","series":"CD25","logFITC":2.57,"count":4.4},
{"panel":"D","series":"CD25","logFITC":2.645,"count":3.9},
{"panel":"D","series":"CD25","logFITC":2.72,"count":3.4},
{"panel":"D","series":"CD25","logFITC":2.796,"count":2.9},
{"panel":"D","series":"CD25","logFITC":2.896,"count":2.2},
{"panel":"D","series":"CD25","logFITC":2.96,"count":0.8},
{"panel":"D","series":"CD25","logFITC":3.03,"count":0},
{"panel":"D","series":"CD69","logFITC":1.0,"count":0},
{"panel":"D","series":"CD69","logFITC":1.241,"count":0.8},
{"panel":"D","series":"CD69","logFITC":1.392,"count":1.8},
{"panel":"D","series":"CD69","logFITC":1.543,"count":2.9},
{"panel":"D","series":"CD69","logFITC":1.664,"count":3.4},
{"panel":"D","series":"CD69","logFITC":1.785,"count":3.9},
{"panel":"D","series":"CD69","logFITC":1.876,"count":4.4},
{"panel":"D","series":"CD69","logFITC":1.936,"count":6.4},
{"panel":"D","series":"CD69","logFITC":1.997,"count":8.5},
{"panel":"D","series":"CD69","logFITC":2.042,"count":11},
{"panel":"D","series":"CD69","logFITC":2.09,"count":16},
{"panel":"D","series":"CD69","logFITC":2.143,"count":22.8},
{"panel":"D","series":"CD69","logFITC":2.193,"count":28.9},
{"panel":"D","series":"CD69","logFITC":2.23,"count":35.5},
{"panel":"D","series":"CD69","logFITC":2.268,"count":43.2},
{"panel":"D","series":"CD69","logFITC":2.306,"count":53.3},
{"panel":"D","series":"CD69","logFITC":2.34,"count":56.5},
{"panel":"D","series":"CD69","logFITC":2.369,"count":59.4},
{"panel":"D","series":"CD69","logFITC":2.4,"count":62.5},
{"panel":"D","series":"CD69","logFITC":2.432,"count":66.5},
{"panel":"D","series":"CD69","logFITC":2.469,"count":74.7},
{"panel":"D","series":"CD69","logFITC":2.507,"count":82.8},
{"panel":"D","series":"CD69","logFITC":2.545,"count":91},
{"panel":"D","series":"CD69","logFITC":2.57,"count":89},
{"panel":"D","series":"CD69","logFITC":2.595,"count":85.9},
{"panel":"D","series":"CD69","logFITC":2.645,"count":74.7},
{"panel":"D","series":"CD69","logFITC":2.695,"count":62.5},
{"panel":"D","series":"CD69","logFITC":2.746,"count":51.3},
{"panel":"D","series":"CD69","logFITC":2.796,"count":40.1},
{"panel":"D","series":"CD69","logFITC":2.846,"count":33},
{"panel":"D","series":"CD69","logFITC":2.871,"count":26.9},
{"panel":"D","series":"CD69","logFITC":2.921,"count":18.7},
{"panel":"D","series":"CD69","logFITC":2.971,"count":11.6},
{"panel":"D","series":"CD69","logFITC":3.022,"count":6.5},
{"panel":"D","series":"CD69","logFITC":3.071,"count":4},
{"panel":"D","series":"CD69","logFITC":3.132,"count":2.6},
{"panel":"D","series":"CD69","logFITC":3.198,"count":0.8},
{"panel":"D","series":"CD69","logFITC":3.24,"count":0}
]
},
"spacing": 43,
"vconcat": [
{
"spacing": 100,
"bounds": "flush",
"hconcat": [
{
"width": 531, "height": 392,
"resolve": {"axis": {"x": "independent", "y": "independent"}},
"layer": [
{
"data": {"name": "labels"},
"transform": [{"filter": "datum.panel === 'A'"}],
"mark": {"type": "text", "font": "Lato", "fontSize": 19, "fill": "black", "align": "center", "baseline": "middle"},
"encoding": {
"x": {"field": "logFITC", "type": "quantitative", "scale": {"domain": [0, 4], "nice": false, "zero": false}, "axis": {"orient": "bottom", "values": [0.301,0.477,0.602,0.699,0.778,0.845,0.903,0.954,1.301,1.477,1.602,1.699,1.778,1.845,1.903,1.954,2.301,2.477,2.602,2.699,2.778,2.845,2.903,2.954,3.301,3.477,3.602,3.699,3.778,3.845,3.903,3.954], "labels": false, "domain": false, "title": null, "tickSize": -6, "tickColor": "black", "tickWidth": 1.2}},
"y": {"field": "count", "type": "quantitative", "scale": {"domain": [0, 120], "nice": false}, "axis": {"orient": "left", "values": [5,10,15,25,30,35,45,50,55,65,70,75,85,90,95,105,110,115], "labels": false, "domain": false, "title": null, "tickSize": -7, "tickColor": "black", "tickWidth": 1.2}},
"text": {"field": "label"}
}
},
{
"data": {"name": "curves"},
"transform": [{"filter": "datum.panel === 'A'"}],
"encoding": {
"x": {"field": "logFITC", "type": "quantitative", "scale": {"domain": [0, 4], "nice": false, "zero": false}, "axis": {"orient": "bottom", "values": [0,1,2,3,4], "tickSize": -14, "tickColor": "#8c8c8c", "tickWidth": 1.5, "domainColor": "black", "domainWidth": 2.5, "labelExpr": "'10' + ['⁰','¹','²','³','⁴'][round(datum.value)]", "labelPadding": 27, "title": "Mouse IgG1 FITC", "titlePadding": 10}},
"y": {"field": "count", "type": "quantitative", "scale": {"domain": [0, 120], "nice": false}, "axis": {"orient": "left", "values": [0,20,40,60,80,100,120], "tickSize": -14, "tickColor": "black", "tickWidth": 1.2, "domainColor": "#555555", "domainWidth": 1.5, "labelPadding": 29, "title": "Counts", "titlePadding": 5}}
},
"layer": [
{"transform": [{"filter": "datum.series === 'Unstimulated'"}], "mark": {"type": "line", "stroke": "black", "strokeWidth": 2.5}},
{"transform": [{"filter": "datum.series === 'Stimulated'"}], "mark": {"type": "line", "stroke": "black", "strokeWidth": 1.1}}
]
}
]
},
{
"width": 531, "height": 392,
"resolve": {"axis": {"x": "independent", "y": "independent"}},
"layer": [
{
"data": {"name": "labels"},
"transform": [{"filter": "datum.panel === 'B'"}],
"mark": {"type": "text", "font": "Lato", "fontSize": 19, "fill": "black", "align": "center", "baseline": "middle"},
"encoding": {
"x": {"field": "logFITC", "type": "quantitative", "scale": {"domain": [0, 4], "nice": false, "zero": false}, "axis": {"orient": "bottom", "values": [0.301,0.477,0.602,0.699,0.778,0.845,0.903,0.954,1.301,1.477,1.602,1.699,1.778,1.845,1.903,1.954,2.301,2.477,2.602,2.699,2.778,2.845,2.903,2.954,3.301,3.477,3.602,3.699,3.778,3.845,3.903,3.954], "labels": false, "domain": false, "title": null, "tickSize": -6, "tickColor": "black", "tickWidth": 1.2}},
"y": {"field": "count", "type": "quantitative", "scale": {"domain": [0, 120], "nice": false}, "axis": {"orient": "left", "values": [5,10,15,25,30,35,45,50,55,65,70,75,85,90,95,105,110,115], "labels": false, "domain": false, "title": null, "tickSize": -7, "tickColor": "black", "tickWidth": 1.2}},
"text": {"field": "label"}
}
},
{
"data": {"name": "curves"},
"transform": [{"filter": "datum.panel === 'B'"}],
"encoding": {
"x": {"field": "logFITC", "type": "quantitative", "scale": {"domain": [0, 4], "nice": false, "zero": false}, "axis": {"orient": "bottom", "values": [0,1,2,3,4], "tickSize": -14, "tickColor": "#8c8c8c", "tickWidth": 1.5, "domainColor": "black", "domainWidth": 2.5, "labelExpr": "'10' + ['⁰','¹','²','³','⁴'][round(datum.value)]", "labelPadding": 27, "title": "Mouse IgG1 FITC", "titlePadding": 10}},
"y": {"field": "count", "type": "quantitative", "scale": {"domain": [0, 120], "nice": false}, "axis": {"orient": "left", "values": [0,20,40,60,80,100,120], "tickSize": -14, "tickColor": "black", "tickWidth": 1.2, "domainColor": "#555555", "domainWidth": 1.5, "labelPadding": 29, "title": "Counts", "titlePadding": 5}}
},
"layer": [
{"transform": [{"filter": "datum.series === 'Unstimulated'"}], "mark": {"type": "line", "stroke": "black", "strokeWidth": 1.1}},
{"transform": [{"filter": "datum.series === 'Stimulated'"}], "mark": {"type": "line", "stroke": "black", "strokeWidth": 2.5}}
]
}
]
}
]
},
{
"spacing": 100,
"bounds": "flush",
"hconcat": [
{
"width": 531, "height": 392,
"resolve": {"axis": {"x": "independent", "y": "independent"}},
"layer": [
{
"data": {"name": "labels"},
"transform": [{"filter": "datum.panel === 'C'"}],
"mark": {"type": "text", "font": "Lato", "fontSize": 19, "fill": "black", "align": "center", "baseline": "middle"},
"encoding": {
"x": {"field": "logFITC", "type": "quantitative", "scale": {"domain": [0, 4], "nice": false, "zero": false}, "axis": {"orient": "bottom", "values": [0.301,0.477,0.602,0.699,0.778,0.845,0.903,0.954,1.301,1.477,1.602,1.699,1.778,1.845,1.903,1.954,2.301,2.477,2.602,2.699,2.778,2.845,2.903,2.954,3.301,3.477,3.602,3.699,3.778,3.845,3.903,3.954], "labels": false, "domain": false, "title": null, "tickSize": -6, "tickColor": "black", "tickWidth": 1.2}},
"y": {"field": "count", "type": "quantitative", "scale": {"domain": [0, 120], "nice": false}, "axis": {"orient": "left", "values": [5,10,15,25,30,35,45,50,55,65,70,75,85,90,95,105,110,115], "labels": false, "domain": false, "title": null, "tickSize": -7, "tickColor": "black", "tickWidth": 1.2}},
"text": {"field": "label"}
}
},
{
"data": {"name": "curves"},
"transform": [{"filter": "datum.panel === 'C'"}],
"encoding": {
"x": {"field": "logFITC", "type": "quantitative", "scale": {"domain": [0, 4], "nice": false, "zero": false}, "axis": {"orient": "bottom", "values": [0,1,2,3,4], "tickSize": -14, "tickColor": "#8c8c8c", "tickWidth": 1.5, "domainColor": "black", "domainWidth": 2.5, "labelExpr": "'10' + ['⁰','¹','²','³','⁴'][round(datum.value)]", "labelPadding": 27, "title": "CD154 FITC", "titlePadding": 8}},
"y": {"field": "count", "type": "quantitative", "scale": {"domain": [0, 120], "nice": false}, "axis": {"orient": "left", "values": [0,20,40,60,80,100,120], "tickSize": -14, "tickColor": "black", "tickWidth": 1.2, "domainColor": "#555555", "domainWidth": 1.5, "labelPadding": 29, "title": "Counts", "titlePadding": 5}}
},
"layer": [
{"transform": [{"filter": "datum.series === 'CD154 stimulated'"}], "mark": {"type": "area", "fill": "#e4e4e4", "stroke": null}},
{"transform": [{"filter": "datum.series === 'CD154 stimulated'"}], "mark": {"type": "line", "stroke": "black", "strokeWidth": 1.1}},
{"transform": [{"filter": "datum.series === 'CD154 unstimulated'"}], "mark": {"type": "line", "stroke": "black", "strokeWidth": 2.5}},
{"transform": [{"filter": "datum.series === 'CD25'"}], "mark": {"type": "line", "stroke": "black", "strokeWidth": 2.5}},
{"transform": [{"filter": "datum.series === 'CD69'"}], "mark": {"type": "line", "stroke": "black", "strokeWidth": 2.5}}
]
}
]
},
{
"width": 531, "height": 392,
"resolve": {"axis": {"x": "independent", "y": "independent"}},
"layer": [
{
"data": {"name": "labels"},
"transform": [{"filter": "datum.panel === 'D'"}],
"mark": {"type": "text", "font": "Lato", "fontSize": 19, "fill": "black", "align": "center", "baseline": "middle"},
"encoding": {
"x": {"field": "logFITC", "type": "quantitative", "scale": {"domain": [0, 4], "nice": false, "zero": false}, "axis": {"orient": "bottom", "values": [0.301,0.477,0.602,0.699,0.778,0.845,0.903,0.954,1.301,1.477,1.602,1.699,1.778,1.845,1.903,1.954,2.301,2.477,2.602,2.699,2.778,2.845,2.903,2.954,3.301,3.477,3.602,3.699,3.778,3.845,3.903,3.954], "labels": false, "domain": false, "title": null, "tickSize": -6, "tickColor": "black", "tickWidth": 1.2}},
"y": {"field": "count", "type": "quantitative", "scale": {"domain": [0, 120], "nice": false}, "axis": {"orient": "left", "values": [5,10,15,25,30,35,45,50,55,65,70,75,85,90,95,105,110,115], "labels": false, "domain": false, "title": null, "tickSize": -7, "tickColor": "black", "tickWidth": 1.2}},
"text": {"field": "label"}
}
},
{
"data": {"name": "curves"},
"transform": [{"filter": "datum.panel === 'D'"}],
"encoding": {
"x": {"field": "logFITC", "type": "quantitative", "scale": {"domain": [0, 4], "nice": false, "zero": false}, "axis": {"orient": "bottom", "values": [0,1,2,3,4], "tickSize": -14, "tickColor": "#8c8c8c", "tickWidth": 1.5, "domainColor": "black", "domainWidth": 2.5, "labelExpr": "'10' + ['⁰','¹','²','³','⁴'][round(datum.value)]", "labelPadding": 27, "title": "CD154 FITC", "titlePadding": 8}},
"y": {"field": "count", "type": "quantitative", "scale": {"domain": [0, 120], "nice": false}, "axis": {"orient": "left", "values": [0,20,40,60,80,100,120], "tickSize": -14, "tickColor": "black", "tickWidth": 1.2, "domainColor": "#555555", "domainWidth": 1.5, "labelPadding": 29, "title": "Counts", "titlePadding": 5}}
},
"layer": [
{"transform": [{"filter": "datum.series === 'CD154 stimulated'"}], "mark": {"type": "area", "fill": "#e4e4e4", "stroke": null}},
{"transform": [{"filter": "datum.series === 'CD154 unstimulated'"}], "mark": {"type": "line", "stroke": "black", "strokeWidth": 1.1}},
{"transform": [{"filter": "datum.series === 'CD25'"}], "mark": {"type": "line", "stroke": "black", "strokeWidth": 1.2, "strokeDash": [2, 2.5]}},
{"transform": [{"filter": "datum.series === 'CD69'"}], "mark": {"type": "line", "stroke": "black", "strokeWidth": 1.2, "strokeDash": [2, 2.5]}},
{"transform": [{"filter": "datum.series === 'CD154 stimulated'"}], "mark": {"type": "line", "stroke": "black", "strokeWidth": 2.5}}
]
}
]
}
]
}
],
"config": {
"view": {"stroke": null},
"axis": {"labelFont": "Lato", "labelFontSize": 19, "labelColor": "black", "titleFont": "Lato", "titleFontSize": 20, "titleFontWeight": "normal", "titleColor": "black", "grid": false, "labelFlush": false, "labelOverlap": false, "labelBound": false}
}
}
